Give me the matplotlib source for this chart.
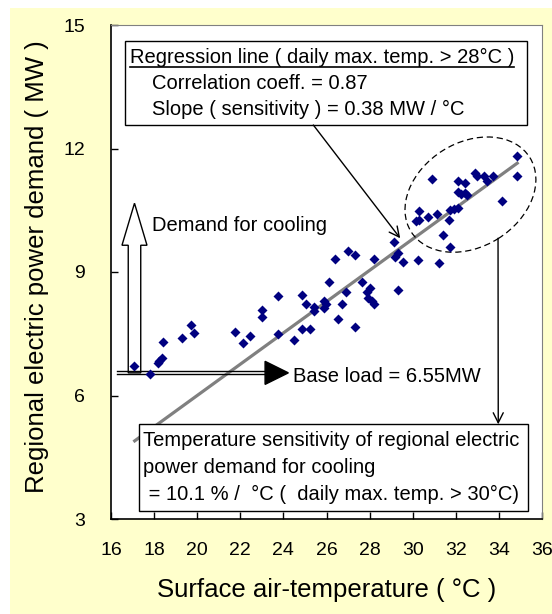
import numpy as np
import matplotlib.pyplot as plt
from matplotlib.patches import Rectangle, Ellipse, FancyArrow
from matplotlib import transforms

plt.rcParams['font.family'] = ['Liberation Sans', 'DejaVu Sans']

# daily max. temperature (deg C) vs regional power demand (MW)
temp = [17.08, 17.81, 18.40, 18.35, 18.24, 18.19, 19.31, 19.70, 19.85,
        21.77, 22.11, 22.44, 23.01, 23.01, 23.75, 23.75, 24.51, 24.88,
        25.03, 24.88, 25.23, 25.42, 25.42, 25.88, 25.98, 25.88, 26.13,
        26.39, 26.52, 26.73, 26.90, 26.98, 27.32, 27.32, 27.63, 27.86,
        28.02, 27.94, 28.10, 28.22, 28.20, 29.13, 29.18, 29.33, 29.57,
        29.32, 30.26, 31.22, 30.15, 30.29, 30.31, 30.70, 31.14, 30.88,
        31.40, 31.75, 31.70, 31.73, 31.93, 32.12, 32.12, 32.43, 32.53,
        32.23, 32.12, 32.43, 32.89, 33.00, 33.31, 33.43, 33.74, 34.13,
        34.83, 34.83]
demand = [6.72, 6.52, 7.31, 6.92, 6.84, 6.78, 7.40, 7.71, 7.51,
          7.55, 7.28, 7.45, 8.08, 7.91, 7.49, 8.42, 7.35, 8.44,
          8.22, 7.62, 7.62, 8.16, 8.06, 8.30, 8.22, 8.12, 8.75,
          9.32, 7.86, 8.22, 8.51, 9.52, 9.41, 7.67, 8.75, 8.51,
          8.60, 8.36, 8.30, 8.22, 9.32, 9.72, 9.37, 9.45, 9.25,
          8.56, 9.29, 9.21, 10.24, 10.48, 10.26, 10.33, 10.41, 11.25,
          9.90, 9.61, 10.26, 10.51, 10.52, 10.55, 10.95, 10.91, 10.87,
          10.89, 11.22, 11.16, 11.40, 11.32, 11.32, 11.20, 11.33, 10.73,
          11.82, 11.33]

reg_slope = 0.38
reg_intercept = -1.60
reg_x = [17.1, 34.85]
base_load = 6.55

x_ticks = [16, 18, 20, 22, 24, 26, 28, 30, 32, 34, 36]
y_ticks = [3, 6, 9, 12, 15]

BOX_FS = 14.5
W, H = 552, 614
fig = plt.figure(figsize=(W / 100, H / 100), dpi=100, facecolor='white')
fig.patches.append(Rectangle((10 / W, 0), 1 - 10 / W, 1 - 8 / H, transform=fig.transFigure,
                             facecolor='#FFFFCC', edgecolor='none', zorder=-10))

ax = fig.add_axes([111 / W, 1 - 519 / H, 431 / W, 494 / H])
ax.set_xlim(16, 36)
ax.set_ylim(3, 15)
ax.set_xticks(x_ticks)
ax.set_yticks(y_ticks)
ax.tick_params(axis='x', direction='in', length=5, width=1, pad=16.5, labelsize=14)
ax.tick_params(axis='y', direction='in', length=5, width=1, pad=18.5, labelsize=14)
for s in ['top', 'right']:
    ax.spines[s].set_color('#808080')
for s in ['left', 'bottom']:
    ax.spines[s].set_color('black')
    ax.spines[s].set_linewidth(1.2)

ax.set_xlabel('Surface air-temperature ( °C )', fontsize=18.5)
ax.set_ylabel('Regional electric power demand ( MW )', fontsize=18.5)
ax.xaxis.label.set_va('center')
ax.yaxis.label.set_va('center')
ax.xaxis.set_label_coords(0.5, -0.1437)
ax.yaxis.set_label_coords(-0.171, 0.511)

# regression line
rx = np.array(reg_x)
ax.plot(rx, reg_slope * rx + reg_intercept, color='#808080', lw=2.3, zorder=2, clip_on=False)

# data points
ax.plot(temp, demand, linestyle='none', marker='D', ms=4.8, color='#000080',
        markeredgecolor='none', zorder=5)

# dashed ellipse around hot days
ell_tr = fig.dpi_scale_trans + transforms.ScaledTranslation(32.68, 10.88, ax.transData)
ax.add_patch(Ellipse((0, 0), 1.40, 1.04, angle=32, transform=ell_tr, fill=False,
                     edgecolor='black', lw=0.9, linestyle=(0, (5, 3)), zorder=4))

# demand for cooling arrow (hollow)
ax.add_patch(FancyArrow(17.09, base_load, 0, 10.67 - base_load, width=0.58, head_width=1.16,
                        head_length=1.02, length_includes_head=True, facecolor='white',
                        edgecolor='black', lw=1.0, zorder=4))
ax.text(17.9, 10.0, 'Demand for cooling', fontsize=BOX_FS, va='baseline', zorder=5)

# base load arrow
ax.plot([16.26, 23.2], [base_load + 0.037, base_load + 0.037], color='black', lw=1.0, zorder=4)
ax.plot([16.26, 23.2], [base_load - 0.037, base_load - 0.037], color='black', lw=1.0, zorder=4)
ax.fill([23.15, 24.23, 23.15], [base_load + 0.28, base_load, base_load - 0.28],
        color='black', zorder=5)
ax.text(24.46, 6.34, 'Base load = 6.55MW', fontsize=BOX_FS, va='baseline', zorder=5)

# regression info box
ax.add_patch(Rectangle((16.65, 12.57), 18.64, 2.05, facecolor='white', edgecolor='black',
                       lw=1.0, zorder=6))
t1 = ax.text(16.88, 14.085, 'Regression line ( daily max. temp. > 28°C )', fontsize=BOX_FS,
             va='baseline', zorder=7)
ax.text(17.9, 13.44, 'Correlation coeff. = 0.87', fontsize=BOX_FS, va='baseline', zorder=7)
ax.text(17.9, 12.81, 'Slope ( sensitivity ) = 0.38 MW / °C', fontsize=BOX_FS,
        va='baseline', zorder=7)

fig.canvas.draw()
bb = t1.get_window_extent().transformed(ax.transData.inverted())
ax.plot([bb.x0, bb.x1], [13.99, 13.99], color='black', lw=1.2, zorder=7)

ax.annotate('', xy=(29.42, 9.82), xytext=(25.39, 12.57),
            arrowprops=dict(arrowstyle='->', lw=1.0, color='black', shrinkA=0, shrinkB=0,
                            mutation_scale=18), zorder=6)
ax.annotate('', xy=(33.97, 5.30), xytext=(33.96, 9.82),
            arrowprops=dict(arrowstyle='->', lw=1.0, color='black', shrinkA=0, shrinkB=0,
                            mutation_scale=18), zorder=6)

# sensitivity box
ax.add_patch(Rectangle((17.31, 3.20), 18.05, 2.10, facecolor='white', edgecolor='black',
                       lw=1.0, zorder=6, clip_on=False))
ax.text(17.5, 4.774, 'Temperature sensitivity of regional electric', fontsize=BOX_FS,
        va='baseline', zorder=7)
ax.text(17.5, 4.11, 'power demand for cooling', fontsize=BOX_FS, va='baseline', zorder=7)
ax.text(17.5, 3.46, ' = 10.1 % /  °C (  daily max. temp. > 30°C)', fontsize=BOX_FS,
        va='baseline', zorder=7)

fig.savefig('out.png', dpi=100, facecolor=fig.get_facecolor())
